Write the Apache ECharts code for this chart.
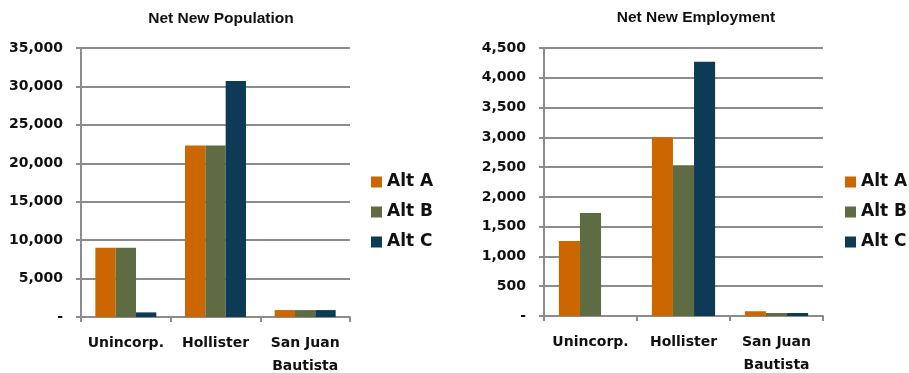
<!DOCTYPE html>
<html>
<head>
<meta charset="utf-8">
<script src="https://cdn.jsdelivr.net/npm/echarts@6/dist/echarts.min.js"></script>
<style>
html,body{margin:0;padding:0;background:#fff;}
#c{width:909px;height:373px;}
</style>
</head>
<body>
<div id="c"></div>
<script>
var categories = ['Unincorp.', 'Hollister', 'San Juan\nBautista'];
var seriesNames = ['Alt A', 'Alt B', 'Alt C'];
var popA = [9000, 22300, 900];
var popB = [9000, 22300, 900];
var popC = [600, 30700, 900];
var empA = [1260, 3000, 80];
var empB = [1730, 2530, 50];
var empC = [0, 4270, 50];
var popTicks = {min: 0, max: 35000, interval: 5000};
var empTicks = {min: 0, max: 4500, interval: 500};
var colors = ['#CC6600', '#5F6B43', '#0D3A55'];

var chart = echarts.init(document.getElementById('c'), null, {renderer: 'canvas'});
var axisFont = 'DejaVu Sans';
var gridColor = '#8C8C8C';

function yAxis(idx, t) {
  return {
    type: 'value', gridIndex: idx, min: t.min, max: t.max, interval: t.interval,
    axisLine: {show: true, lineStyle: {color: gridColor, width: 2}},
    axisTick: {show: true, length: 5, lineStyle: {color: gridColor, width: 2}},
    splitLine: {show: true, lineStyle: {color: gridColor, width: 2}},
    axisLabel: {
      margin: 18, color: '#111', fontFamily: axisFont, fontWeight: 'bold', fontSize: 14,
      formatter: function (v) { return v === 0 ? '-' : v.toLocaleString('en-US'); }
    }
  };
}
function xAxis(idx) {
  return {
    type: 'category', gridIndex: idx, data: categories,
    axisLine: {show: true, lineStyle: {color: gridColor, width: 2}},
    axisTick: {show: true, length: 5, lineStyle: {color: gridColor, width: 2}},
    axisLabel: {
      margin: 15, color: '#111', fontFamily: axisFont, fontWeight: 'bold', fontSize: 14,
      lineHeight: 23, interval: 0
    }
  };
}
function bar(name, data, idx, ci) {
  return {
    type: 'bar', name: name, data: data, xAxisIndex: idx, yAxisIndex: idx,
    barGap: '0%', barCategoryGap: '32%', itemStyle: {color: colors[ci]},
    animation: false
  };
}
function legend(left) {
  return {
    orient: 'vertical', left: left, top: 172, padding: 0, itemWidth: 11, itemHeight: 11, itemGap: 10,
    data: seriesNames.map(function (n) { return {name: n, icon: 'rect'}; }),
    textStyle: {fontFamily: axisFont, fontWeight: 'bold', fontSize: 17, color: '#111', lineHeight: 20}
  };
}

chart.setOption({
  animation: false,
  title: [
    {text: 'Net New Population', left: 216, top: 6, textAlign: 'center',
     textStyle: {fontFamily: 'Liberation Sans', fontWeight: 'bold', fontSize: 15.5, color: '#111'}},
    {text: 'Net New Employment', left: 691, top: 5, textAlign: 'center',
     textStyle: {fontFamily: 'Liberation Sans', fontWeight: 'bold', fontSize: 15.5, color: '#111'}}
  ],
  legend: [legend(371), legend(845)],
  grid: [
    {left: 81, top: 48, width: 269, height: 269, containLabel: false, outerBoundsMode: 'none'},
    {left: 544, top: 48, width: 279, height: 268, containLabel: false, outerBoundsMode: 'none'}
  ],
  xAxis: [xAxis(0), xAxis(1)],
  yAxis: [yAxis(0, popTicks), yAxis(1, empTicks)],
  series: [
    bar(seriesNames[0], popA, 0, 0),
    bar(seriesNames[1], popB, 0, 1),
    bar(seriesNames[2], popC, 0, 2),
    bar(seriesNames[0], empA, 1, 0),
    bar(seriesNames[1], empB, 1, 1),
    bar(seriesNames[2], empC, 1, 2)
  ]
});
</script>
</body>
</html>
